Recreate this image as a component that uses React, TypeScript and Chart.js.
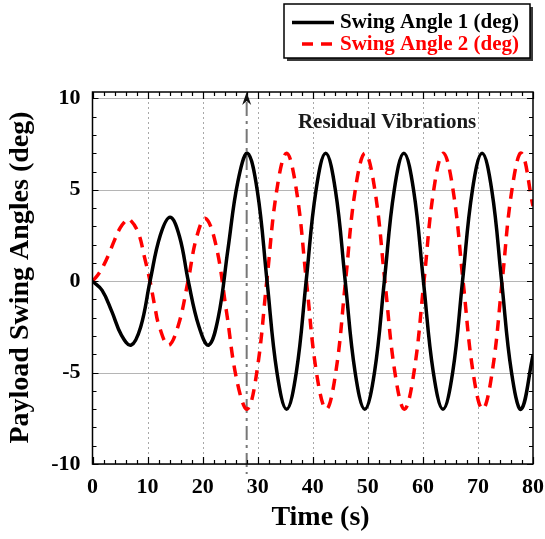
import React, { useEffect, useRef } from 'react';
import { Chart, registerables } from 'chart.js';

Chart.register(...registerables);

// ---- data ----
const seriesLabels = ['Swing Angle 1 (deg)', 'Swing Angle 2 (deg)'];

const timeAngle1 = [0, 1.75, 3.5, 5.25, 7.0, 8.75, 10.45, 12.3, 14.1, 15.8, 17.4, 19.3, 21.1, 22.86, 24.6, 26.4, 28.15, 29.93, 31.7, 33.48, 35.25, 37.03, 38.8, 40.58, 42.35, 44.13, 45.9, 47.68, 49.45, 51.23, 53.0, 54.78, 56.55, 58.33, 60.1, 61.88, 63.65, 65.43, 67.2, 68.98, 70.75, 72.53, 74.3, 76.08, 77.85, 80];
const angle1 = [0, -0.5, -1.65, -2.95, -3.5, -2.5, 0, 2.5, 3.5, 2.45, 0, -2.45, -3.5, -1.95, 1.75, 5.45, 7, 4.95, 0, -4.95, -7, -4.95, 0, 4.95, 7, 4.95, 0, -4.95, -7, -4.95, 0, 4.95, 7, 4.95, 0, -4.95, -7, -4.95, 0, 4.95, 7, 4.95, 0, -4.95, -7, -4.05];

const timeAngle2 = [0, 1, 2, 3, 4, 5, 6, 6.6, 8.25, 9.45, 10.45, 11.3, 12.1, 13.8, 15.55, 17.35, 18.9, 20.5, 22.4, 24.3, 26.2, 28.1, 29.85, 31.65, 33.45, 35.25, 37.05, 38.85, 40.65, 42.45, 44.2, 45.95, 47.7, 49.5, 51.3, 53.1, 54.9, 56.65, 58.4, 60.2, 61.95, 63.7, 65.5, 67.3, 69.1, 70.85, 72.6, 74.4, 76.15, 77.9, 80];
const angle2 = [0, 0.35, 0.85, 1.5, 2.25, 2.9, 3.3, 3.42, 2.7, 1.3, 0, -1.35, -2.45, -3.5, -2.45, 0, 2.4, 3.44, 2.0, -1.6, -5.4, -7, -4.95, 0, 4.95, 7, 4.95, 0, -4.95, -7, -4.95, 0, 4.95, 7, 4.95, 0, -4.95, -7, -4.95, 0, 4.95, 7, 4.95, 0, -4.95, -7, -4.95, 0, 4.95, 7, 4.1];

const xTicks = [0, 10, 20, 30, 40, 50, 60, 70, 80];
const yTicks = [-10, -5, 0, 5, 10];
const xTitle = 'Time (s)';
const yTitle = 'Payload Swing Angles (deg)';
const markerTime = 28;
const annotationText = 'Residual Vibrations';
const annotationAt = [53.5, 8.7];

const FONT = '"Liberation Serif", "Times New Roman", serif';
const RED = '#ff0000';

const deco = {
  id: 'deco',
  beforeDatasetsDraw(chart: any) {
    const { ctx, chartArea: a, scales } = chart;
    const x = scales.x;
    const y = scales.y;
    ctx.save();
    ctx.strokeStyle = '#b5b5b5';
    ctx.lineWidth = 1;
    yTicks.forEach((v) => {
      const py = Math.round(y.getPixelForValue(v)) + 0.5;
      ctx.beginPath();
      ctx.moveTo(a.left, py);
      ctx.lineTo(a.right, py);
      ctx.stroke();
    });
    ctx.setLineDash([2, 3]);
    ctx.strokeStyle = '#a8a8a8';
    xTicks.slice(1, -1).forEach((v) => {
      const px = Math.round(x.getPixelForValue(v)) + 0.5;
      ctx.beginPath();
      ctx.moveTo(px, a.top);
      ctx.lineTo(px, a.bottom);
      ctx.stroke();
    });
    const mx = x.getPixelForValue(markerTime);
    ctx.setLineDash([14, 5, 3, 5]);
    ctx.strokeStyle = '#777777';
    ctx.lineWidth = 2;
    ctx.beginPath();
    ctx.moveTo(mx, a.top + 10);
    ctx.lineTo(mx, a.bottom + 10);
    ctx.stroke();
    ctx.restore();
  },
  afterDraw(chart: any) {
    const { ctx, chartArea: a, scales } = chart;
    const x = scales.x;
    const y = scales.y;
    ctx.save();
    ctx.strokeStyle = '#000';
    ctx.lineWidth = 1.5;
    ctx.strokeRect(a.left, a.top, a.right - a.left, a.bottom - a.top);
    ctx.lineWidth = 1.2;
    ctx.beginPath();
    for (let v = -10; v <= 10; v += 1) {
      const py = Math.round(y.getPixelForValue(v)) + 0.5;
      const len = v % 5 === 0 ? 6 : 4;
      ctx.moveTo(a.left, py);
      ctx.lineTo(a.left + len, py);
      ctx.moveTo(a.right, py);
      ctx.lineTo(a.right - len, py);
    }
    for (let v = 0; v <= 80; v += 2) {
      const px = Math.round(x.getPixelForValue(v)) + 0.5;
      const len = v % 10 === 0 ? 7 : 4;
      ctx.moveTo(px, a.top);
      ctx.lineTo(px, a.top + len);
      ctx.moveTo(px, a.bottom);
      ctx.lineTo(px, a.bottom - len);
    }
    ctx.stroke();
    const mx = x.getPixelForValue(markerTime);
    ctx.fillStyle = '#111';
    ctx.beginPath();
    ctx.moveTo(mx, a.top);
    ctx.lineTo(mx - 4.5, a.top + 13);
    ctx.lineTo(mx, a.top + 9);
    ctx.lineTo(mx + 4.5, a.top + 13);
    ctx.closePath();
    ctx.fill();
    ctx.fillStyle = '#1a1a1a';
    ctx.font = `bold 21px ${FONT}`;
    ctx.textAlign = 'center';
    ctx.textBaseline = 'middle';
    ctx.fillText(annotationText, x.getPixelForValue(annotationAt[0]), y.getPixelForValue(annotationAt[1]));
    ctx.fillStyle = '#000';
    ctx.font = `bold 28px ${FONT}`;
    ctx.fillText(xTitle, 320.5, 518);
    ctx.save();
    ctx.translate(21, 277.5);
    ctx.rotate(-Math.PI / 2);
    ctx.fillText(yTitle, 0, 0);
    ctx.restore();
    const lx = 284, ly = 4, lw = 246, lh = 54;
    ctx.fillStyle = '#3a3a3a';
    ctx.fillRect(lx + 3, ly + 3, lw, lh);
    ctx.fillStyle = '#fff';
    ctx.fillRect(lx, ly, lw, lh);
    ctx.strokeStyle = '#000';
    ctx.lineWidth = 1.5;
    ctx.strokeRect(lx, ly, lw, lh);
    ctx.lineWidth = 3.5;
    ctx.strokeStyle = '#000';
    ctx.beginPath();
    ctx.moveTo(292, 22.5);
    ctx.lineTo(334, 22.5);
    ctx.stroke();
    ctx.strokeStyle = RED;
    ctx.setLineDash([11, 8]);
    ctx.beginPath();
    ctx.moveTo(302, 44);
    ctx.lineTo(333, 44);
    ctx.stroke();
    ctx.setLineDash([]);
    ctx.font = `bold 21px ${FONT}`;
    ctx.textAlign = 'left';
    ctx.fillStyle = '#000';
    ctx.fillText(seriesLabels[0], 340, 22.5);
    ctx.fillStyle = RED;
    ctx.fillText(seriesLabels[1], 340, 44.5);
    ctx.restore();
  },
};

export default function App() {
  const ref = useRef<HTMLCanvasElement | null>(null);
  useEffect(() => {
    if (!ref.current) return;
    const chart = new Chart(ref.current, {
      type: 'line',
      data: {
        datasets: [
          {
            label: seriesLabels[0],
            data: timeAngle1.map((t, i) => ({ x: t, y: angle1[i] })),
            borderColor: '#000',
            borderWidth: 3.5,
            pointRadius: 0,
            tension: 0.4,
            fill: false,
          },
          {
            label: seriesLabels[1],
            data: timeAngle2.map((t, i) => ({ x: t, y: angle2[i] })),
            borderColor: RED,
            borderWidth: 3.5,
            borderDash: [11, 8],
            pointRadius: 0,
            tension: 0.4,
            fill: false,
          },
        ],
      },
      options: {
        animation: false,
        responsive: true,
        maintainAspectRatio: false,
        layout: { padding: { top: 92, right: 12, left: 0, bottom: 0 } },
        plugins: { legend: { display: false }, tooltip: { enabled: false } },
        scales: {
          x: {
            type: 'linear',
            min: 0,
            max: 80,
            afterBuildTicks: (s: any) => { s.ticks = xTicks.map((v) => ({ value: v })); },
            afterFit: (s: any) => { s.height = 75; s.paddingLeft = 0; s.paddingRight = 0; },
            grid: { display: false, drawTicks: false },
            border: { display: false },
            ticks: {
              padding: 10,
              color: '#000',
              font: { family: FONT, size: 22, weight: 'bold' },
              callback: (v: any) => String(v),
              maxRotation: 0,
            },
          },
          y: {
            type: 'linear',
            min: -10,
            max: 10.35,
            afterBuildTicks: (s: any) => { s.ticks = yTicks.map((v) => ({ value: v })); },
            afterFit: (s: any) => { s.width = 92.5; s.paddingTop = 0; s.paddingBottom = 0; },
            grid: { display: false, drawTicks: false },
            border: { display: false },
            ticks: {
              padding: 12,
              color: '#000',
              font: { family: FONT, size: 22, weight: 'bold' },
              callback: (v: any) => String(v),
            },
          },
        },
      },
      plugins: [deco],
    });
    return () => chart.destroy();
  }, []);
  return (
    <div style={{ position: 'absolute', left: 0, top: 0, width: 545, height: 539, background: '#fff' }}>
      <canvas ref={ref} />
    </div>
  );
}
